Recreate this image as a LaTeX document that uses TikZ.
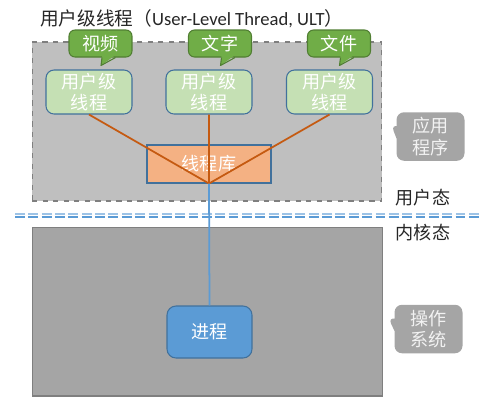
\documentclass[tikz,border=0pt]{standalone}
\usepackage{fontspec}
\setmainfont{Carlito}
\newfontfamily\cjk{Noto Sans CJK SC}
\usetikzlibrary{shapes.callouts,positioning}
\definecolor{tagfill}{HTML}{70AD47}
\definecolor{tagline}{HTML}{507E32}
\definecolor{ultfill}{HTML}{C5E0B4}
\definecolor{boxline}{HTML}{41719C}
\definecolor{libfill}{HTML}{F4B183}
\definecolor{linkred}{HTML}{C55A11}
\definecolor{procblue}{HTML}{5B9BD5}
\definecolor{modelight}{HTML}{9DC3E6}
\definecolor{userfill}{HTML}{BFBFBF}
\definecolor{kernfill}{HTML}{A5A5A5}
\definecolor{frame}{HTML}{7F7F7F}
\tikzset{
	txt/.style={font=\cjk\fontsize{10.3}{12.4}\selectfont, align=center, inner sep=0pt},
	ult/.style={txt, rounded corners=0.16cm, draw=boxline, fill=ultfill, text=white, minimum width=1.72cm, minimum height=0.88cm, line width=0.6pt},
	tag/.style={txt, rounded corners=0.12cm, draw=tagline, fill=tagfill, text=white, minimum width=1.26cm, minimum height=0.54cm, line width=0.6pt},
	side/.style={txt, rectangle callout, rounded corners=0.15cm, fill=kernfill, text=white!95!black, minimum width=1.36cm, minimum height=0.97cm},
	area/.style={inner sep=0pt, line width=0.6pt, draw=frame},
	link/.style={color=linkred, line width=1pt},
	uplink/.style={color=procblue, line width=1pt},
	modeline/.style={line width=0.9pt, dash pattern=on 5.6pt off 2pt}
}
% tail of a green tag, under its south side
\newcommand{\tagtail}[1]{
	\fill[tagfill] ([xshift=0.03cm,yshift=0.05cm]#1.south) -- ([xshift=0.01cm,yshift=-0.16cm]#1.south) -- ([xshift=0.3cm,yshift=0.05cm]#1.south) -- cycle;
	\draw[tagline, line width=0.6pt, line join=round] ([xshift=0.03cm]#1.south) -- ([xshift=0.01cm,yshift=-0.16cm]#1.south) -- ([xshift=0.3cm]#1.south);
}
\begin{document}
\begin{tikzpicture}[x=0.02cm,y=-0.02cm]
	\useasboundingbox (0,0) rectangle (500,414);
	%%%areas
	\node[area, dashed, fill=userfill, minimum width=7cm, minimum height=3.18cm] (user) at (207,121.5) {};
	\node[area, fill=kernfill, minimum width=7.02cm, minimum height=3.38cm] (kern) at (207.5,311.5) {};
	\node[anchor=west, inner sep=0pt, font=\fontsize{10.6}{12}\selectfont, text=black!85] (title) at (40,19) {{\cjk 用户级线程（}User-Level Thread, ULT{\cjk ）}};
	
	%%%threads
	\node[ult] (t1) at (89,92) {用户级\\线程};
	\node[ult] (t2) at (209,92) {用户级\\线程};
	\node[ult] (t3) at (329.5,92) {用户级\\线程};
	\node[tag] (b1) at (100.5,43.5) {视频};
	\node[tag] (b2) at (220,43.5) {文字};
	\node[tag] (b3) at (339,43.5) {文件};
	\tagtail{b1} \tagtail{b2} \tagtail{b3}
	\node[txt, draw=boxline, fill=libfill, text=white, line width=0.6pt, minimum width=2.48cm, minimum height=0.76cm] (lib) at (209,164) {线程库};
	\node[txt, rounded corners=0.18cm, draw=boxline, fill=procblue, text=white, line width=0.6pt, minimum width=1.7cm, minimum height=1.04cm] (proc) at (209.5,332) {进程};
	\draw[link] (t1.south) -- (lib.south) (t2.south) -- (lib.south) (t3.south) -- (lib.south);
	
	%%%modes
	\coordinate (mL) at (15,214);
	\coordinate (mR) at (482,214);
	\draw[modeline, modelight] (mL) -- (mR);
	\draw[modeline, procblue] ([yshift=-0.06cm]mL) -- ([yshift=-0.06cm]mR);
	\draw[uplink] (lib.south) -- (proc.north);
	\node[txt, text=black!85] (umode) at (423,198) {用户态};
	\node[txt, text=black!85] (kmode) at (423,233) {内核态};
	\node[side, callout absolute pointer={(7.82cm,-2.48cm)}] (app) at (430.5,136.5) {应用\\程序};
	\node[side, callout absolute pointer={(7.76cm,-6.34cm)}] (os) at (428.5,329) {操作\\系统};
\end{tikzpicture}
\end{document}
